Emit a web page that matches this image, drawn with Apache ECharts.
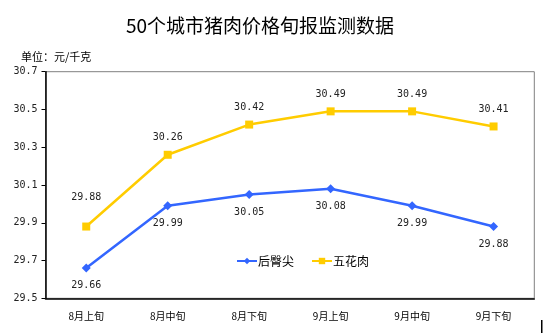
<!DOCTYPE html>
<html><head><meta charset="utf-8">
<script src="https://cdn.jsdelivr.net/npm/echarts@6/dist/echarts.min.js"></script>
<style>html,body{margin:0;padding:0;background:#fff;}#c{width:543px;height:335px;}</style>
</head><body><div id="c"></div>
<script>
var categories = ['8月上旬','8月中旬','8月下旬','9月上旬','9月中旬','9月下旬'];
var houTunJian = [29.66, 29.99, 30.05, 30.08, 29.99, 29.88];
var wuHuaRou = [29.88, 30.26, 30.42, 30.49, 30.49, 30.41];
var yTicks = {min: 29.5, max: 30.7, step: 0.2};

var labelFont = {fontFamily: 'DejaVu Sans Mono', fontSize: 10, color: '#222'};
var chart = echarts.init(document.getElementById('c'), null, {renderer: 'canvas'});
var wuData = wuHuaRou.map(function(v, i){
  var d = {value: v};
  if (i === 0) d.label = {distance: 20};
  return d;
});
chart.setOption({
  animation: false,
  backgroundColor: '#fff',
  title: [{
    text: '50个城市猪肉价格旬报监测数据', left: 255, top: 11, textAlign: 'center',
    textStyle: {fontFamily: 'Noto Sans CJK SC', fontSize: 19, fontWeight: 'normal', color: '#000'}
  },{
    text: '单位：元/千克', left: 16, top: 46,
    textStyle: {fontFamily: 'Noto Sans CJK SC', fontSize: 11, fontWeight: 'normal', color: '#000'}
  }],
  legend: {
    left: 231, top: 250, itemWidth: 20, itemHeight: 8, itemGap: 17,
    textStyle: {fontFamily: 'Noto Sans CJK SC', fontSize: 12, color: '#000', padding: [0,0,0,-4]},
    data: ['后臀尖','五花肉']
  },
  grid: {left: 45.5, right: 8.7, top: 71.7, bottom: 36.7, show: true, borderColor: '#808080', borderWidth: 1, backgroundColor: 'transparent'},
  xAxis: {
    type: 'category', data: categories, boundaryGap: true,
    axisLine: {lineStyle: {color: '#000', width: 1.5}},
    axisTick: {inside: true, length: 4, lineStyle: {color: '#000'}},
    axisLabel: {fontFamily: 'Noto Sans CJK SC', fontSize: 10, color: '#000', margin: 13}
  },
  yAxis: {
    type: 'value', min: yTicks.min, max: yTicks.max, interval: yTicks.step,
    axisLine: {show: true, lineStyle: {color: '#000', width: 1.5}},
    axisTick: {show: true, length: 4, lineStyle: {color: '#000'}},
    splitLine: {show: false},
    axisLabel: {fontFamily: 'DejaVu Sans Mono', fontSize: 10, color: '#222', margin: 8,
      formatter: function(v){return v.toFixed(1);}}
  },
  series: [{
    name: '后臀尖', type: 'line', data: houTunJian,
    symbol: 'diamond', symbolSize: 9,
    lineStyle: {color: '#3366FF', width: 2.5},
    itemStyle: {color: '#3366FF'},
    label: Object.assign({show: true, position: 'bottom', distance: 8, formatter: function(p){return p.value.toFixed(2);}}, labelFont)
  },{
    name: '五花肉', type: 'line', data: wuData,
    symbol: 'rect', symbolSize: 8,
    lineStyle: {color: '#FFCC00', width: 2.5},
    itemStyle: {color: '#FFCC00'},
    label: Object.assign({show: true, position: 'top', distance: 8, formatter: function(p){return p.value.toFixed(2);}}, labelFont)
  }],
  graphic: [{type: 'rect', shape: {x: 541, y: 320, width: 1.5, height: 13}, style: {fill: '#000'}}]
});
</script></body></html>
